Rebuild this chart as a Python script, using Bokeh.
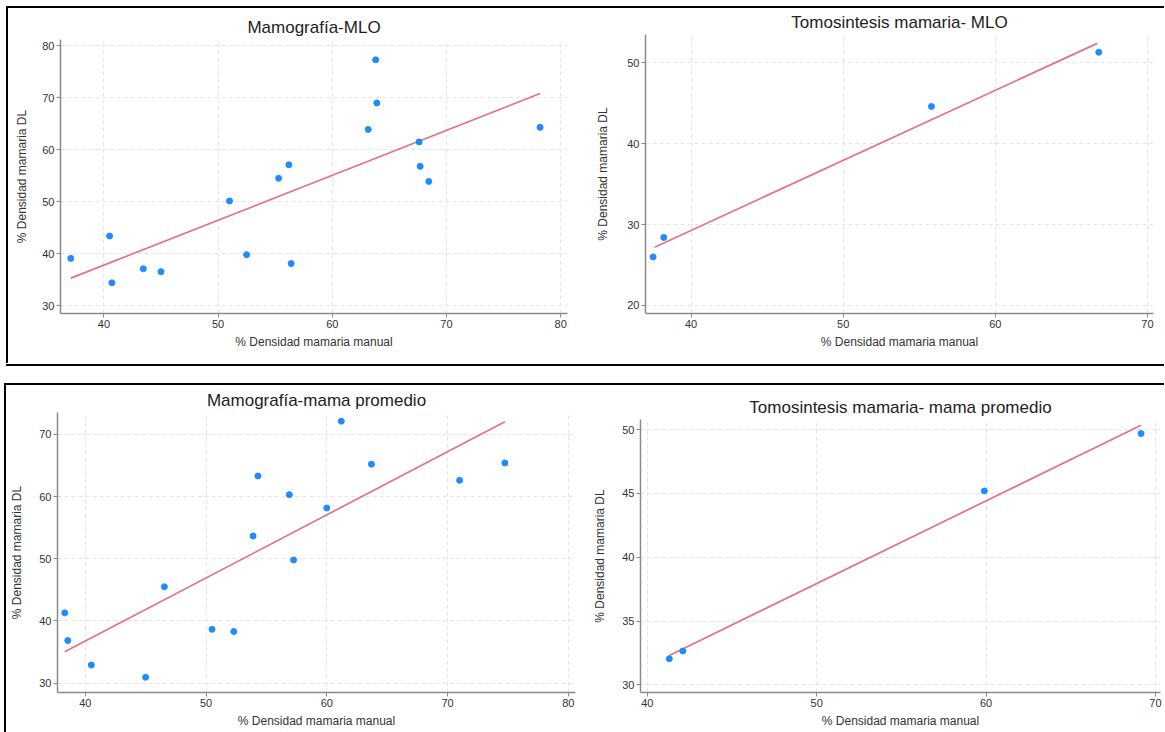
from bokeh.plotting import figure
from bokeh.layouts import row, column
from bokeh.models import Div, Spacer, FixedTicker, Range1d
from bokeh.embed import file_html
from bokeh.resources import INLINE

# ---------------- data ----------------
x_label = "% Densidad mamaria manual"
y_label = "% Densidad mamaria DL"

# Panel 1: Mamografía-MLO
mlo_mamo_manual = [37.1, 40.5, 40.7, 43.45, 45.0, 51.0, 52.5, 55.3, 56.2, 56.4,
                   63.15, 63.8, 63.9, 67.6, 67.7, 68.45, 78.2]
mlo_mamo_dl = [39.1, 43.4, 34.4, 37.1, 36.55, 50.15, 39.8, 54.5, 57.1, 38.1,
               63.9, 77.3, 69.0, 61.5, 56.8, 53.9, 64.3]
mlo_mamo_fit_x = [37.1, 78.2]
mlo_mamo_fit_y = [35.3, 70.8]

# Panel 2: Tomosintesis mamaria- MLO
mlo_tomo_manual = [37.5, 38.2, 55.8, 66.8]
mlo_tomo_dl = [26.0, 28.4, 44.6, 51.3]
mlo_tomo_fit_x = [37.6, 66.7]
mlo_tomo_fit_y = [27.2, 52.4]

# Panel 3: Mamografía-mama promedio
prom_mamo_manual = [38.3, 38.55, 40.5, 45.0, 46.55, 50.5, 52.3, 53.9, 54.3, 56.9,
                    57.25, 60.0, 61.2, 63.7, 71.0, 74.75]
prom_mamo_dl = [41.3, 36.85, 32.9, 30.95, 45.5, 38.65, 38.3, 53.65, 63.3, 60.3,
                49.8, 58.15, 72.1, 65.2, 62.6, 65.4]
prom_mamo_fit_x = [38.3, 74.75]
prom_mamo_fit_y = [35.05, 72.0]

# Panel 4: Tomosintesis mamaria- mama promedio
prom_tomo_manual = [41.3, 42.1, 59.9, 69.15]
prom_tomo_dl = [32.05, 32.65, 45.2, 49.7]
prom_tomo_fit_x = [41.3, 69.15]
prom_tomo_fit_y = [32.3, 50.35]

titles = ["Mamografía-MLO", "Tomosintesis mamaria- MLO",
          "Mamografía-mama promedio", "Tomosintesis mamaria- mama promedio"]

FONT = "Liberation Sans"
MARKER = "#1e8cff"
LINE = "#e2718b"
AXIS = "#8a8a8a"
GRID = "#e4e4e4"
TXT = "#333333"


def panel(title, xs, ys, fx, fy, xr, yr, xt, yt, fw, fh, bl, br, bt, bb, ylab_standoff):
    p = figure(frame_width=fw, frame_height=fh,
               min_border_left=bl, min_border_right=br,
               min_border_top=bt, min_border_bottom=bb,
               x_range=Range1d(*xr), y_range=Range1d(*yr),
               output_backend="svg", toolbar_location=None)
    p.outline_line_color = None
    p.background_fill_color = "white"
    p.border_fill_color = "white"

    p.title.text = title
    p.title.align = "center"
    p.title.text_font = FONT
    p.title.text_font_size = "17px"
    p.title.text_font_style = "normal"
    p.title.text_color = "#222222"
    p.title.standoff = 5

    for ax, ticks in ((p.xaxis[0], xt), (p.yaxis[0], yt)):
        ax.ticker = FixedTicker(ticks=ticks)
        ax.axis_line_color = AXIS
        ax.axis_line_width = 1.5
        ax.major_tick_line_color = AXIS
        ax.major_tick_out = 4
        ax.major_tick_in = 0
        ax.minor_tick_line_color = None
        ax.major_label_text_font = FONT
        ax.major_label_text_font_size = "11px"
        ax.major_label_text_color = TXT
        ax.major_label_standoff = 2
        ax.axis_label_text_font = FONT
        ax.axis_label_text_font_size = "12px"
        ax.axis_label_text_font_style = "normal"
        ax.axis_label_text_color = TXT
    p.xaxis[0].axis_label = x_label
    p.yaxis[0].axis_label = y_label
    p.xaxis[0].axis_label_standoff = 4
    p.yaxis[0].axis_label_standoff = ylab_standoff

    p.xgrid.ticker = FixedTicker(ticks=xt)
    p.ygrid.ticker = FixedTicker(ticks=yt)
    for g in (p.xgrid[0], p.ygrid[0]):
        g.grid_line_color = GRID
        g.grid_line_dash = "4 3"
        g.grid_line_width = 1

    p.line(fx, fy, line_color=LINE, line_width=1.7)
    p.scatter(xs, ys, size=6, fill_color=MARKER, line_color=MARKER)
    return p


# top row: figures 355 px high; bottom row: 347 px high
p1 = panel(titles[0], mlo_mamo_manual, mlo_mamo_dl, mlo_mamo_fit_x, mlo_mamo_fit_y,
           (36.2, 80.6), (28.5, 81.2), [40, 50, 60, 70, 80], [30, 40, 50, 60, 70, 80],
           507, 274, 52, 23, 25, 51, 10)
p2 = panel(titles[1], mlo_tomo_manual, mlo_tomo_dl, mlo_tomo_fit_x, mlo_tomo_fit_y,
           (37.0, 70.4), (19.0, 53.5), [40, 50, 60, 70], [20, 30, 40, 50],
           508, 279, 55, 11, 25, 51, 14)
p3 = panel(titles[2], prom_mamo_manual, prom_mamo_dl, prom_mamo_fit_x, prom_mamo_fit_y,
           (37.7, 80.6), (28.5, 73.5), [40, 50, 60, 70, 80], [30, 40, 50, 60, 70],
           518, 280, 51, 15, 27, 40, 12)
p4 = panel(titles[3], prom_tomo_manual, prom_tomo_dl, prom_tomo_fit_x, prom_tomo_fit_y,
           (39.6, 70.3), (29.4, 50.8), [40, 50, 60, 70], [30, 35, 40, 45, 50],
           520, 273, 50, 4, 27, 40, 12)


def bar(w, h):
    return Div(text="", width=w, height=h, margin=0,
               styles={"background-color": "black"})


def gap(w, h):
    return Spacer(width=w, height=h, margin=0)


layout = column(
    gap(1164, 6),
    row(gap(6, 2), bar(1158, 2), spacing=0),
    row(gap(6, 355), bar(2, 355), column(gap(582, 5), p1, spacing=0), column(p2, spacing=0), spacing=0),
    row(gap(6, 2), bar(1158, 2), spacing=0),
    gap(1164, 17),
    row(gap(4, 2), bar(1160, 2), spacing=0),
    row(gap(4, 347), bar(2, 347), column(p3, spacing=0), column(gap(574, 7), p4, spacing=0), spacing=0),
    spacing=0,
)

open("out.html", "w").write(file_html(layout, INLINE))
